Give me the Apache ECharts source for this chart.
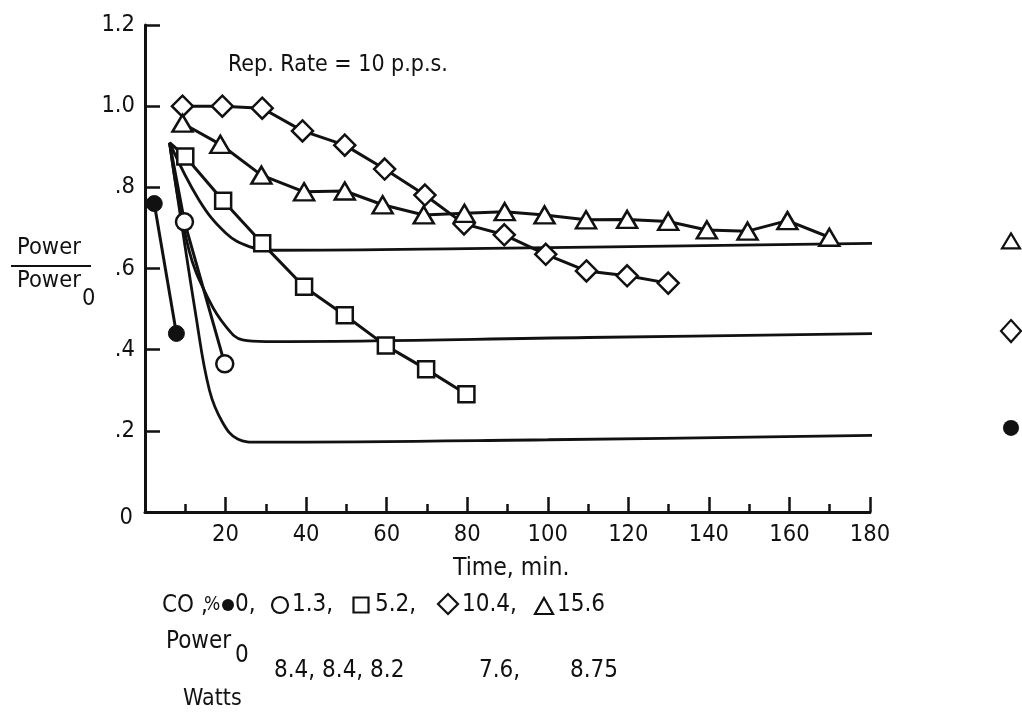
<!DOCTYPE html>
<html>
<head>
<meta charset="utf-8">
<script src="https://cdn.jsdelivr.net/npm/echarts@6/dist/echarts.min.js"></script>
<style>
  html, body { margin: 0; padding: 0; background: #fff; }
  #chart { width: 1022px; height: 717px; }
</style>
</head>
<body>
<div id="chart"></div>
<script>
// ---- Data ----
const co0Filled = [[2.3, 0.76], [7.8, 0.44]];                       // CO 0 %
const co13Open = [[6.1, 0.91], [9.8, 0.715], [19.8, 0.365]];         // CO 1.3 %
const co52Square = [[6.1, 0.91], [10, 0.876], [19.4, 0.767], [29.1, 0.662], [39.5, 0.555],
                    [49.6, 0.485], [59.8, 0.41], [69.8, 0.352], [79.8, 0.29]];   // CO 5.2 %
const co104Diamond = [[9.3, 1.0], [19.2, 1.0], [29.1, 0.995], [39.1, 0.939], [49.6, 0.904],
                      [59.5, 0.845], [69.5, 0.781], [79.2, 0.71], [89.2, 0.683], [99.5, 0.635],
                      [109.6, 0.594], [119.7, 0.582], [129.9, 0.564]];           // CO 10.4 %
const co156Triangle = [[9.3, 0.958], [18.7, 0.906], [28.9, 0.83], [39.5, 0.789], [49.6, 0.791],
                       [59.0, 0.757], [69.2, 0.732], [79.3, 0.736], [89.3, 0.74], [99.2, 0.732],
                       [109.5, 0.72], [119.7, 0.721], [129.9, 0.716], [139.5, 0.695], [149.6, 0.692],
                       [159.5, 0.718], [169.9, 0.677]];                          // CO 15.6 %
// Theoretical curves (solid, no markers)
const curveHigh = [[6.1, 0.91], [13.4, 0.769], [20.1, 0.687], [25.9, 0.654], [32, 0.645],
                   [80, 0.649], [189.5, 0.663]];
const curveMid = [[6.1, 0.91], [10.9, 0.646], [15.9, 0.522], [20.1, 0.457], [24.2, 0.424],
                  [30, 0.42], [110, 0.43], [190, 0.441]];
const curveLow = [[6.1, 0.91], [12.7, 0.48], [16, 0.30], [19.3, 0.22], [23, 0.18], [28, 0.172],
                  [100, 0.178], [188.5, 0.19]];

const xMin = 0, xMax = 180, xStep = 20;
const yMin = 0, yMax = 1.2, yStep = 0.2;

const titleText = 'Rep. Rate = 10 p.p.s.';
const xName = 'Time, min.';
const legendValues = ['0,', '1.3,', '5.2,', '10.4,', '15.6'];
const powerValues = ['8.4, 8.4, 8.2', '7.6,', '8.75'];

// ---- Styles ----
const FONT = "'Liberation Sans Narrow','DejaVu Sans Condensed','Arial Narrow',sans-serif";
const FS = 23.5;
const INK = '#111';
const openItem = { color: '#fff', borderColor: INK, borderWidth: 2.5 };
const openShape = { fill: '#fff', stroke: INK, lineWidth: 2.2 };

const chart = echarts.init(document.getElementById('chart'), null, { renderer: 'canvas' });

function dataLine(name, data, symbol, size, item) {
  return {
    name, type: 'line', data, symbol, symbolSize: size,
    showAllSymbol: true, clip: false, z: 3,
    lineStyle: { color: INK, width: 3 },
    itemStyle: item
  };
}
function startHidden(arr) {
  return arr.map((p, i) => i === 0 ? { value: p, symbol: 'none' } : p);
}
function curve(data) {
  return {
    type: 'line', data, symbol: 'none', smooth: 0.4, clip: false, z: 2,
    lineStyle: { color: INK, width: 2.8 }
  };
}
function txt(left, top, text, size) {
  return { type: 'text', left, top, style: { text, font: `${size || FS}px ${FONT}`, fill: INK } };
}
// key symbols drawn as shapes
function symShape(kind, cx, cy, w, h, fill) {
  if (kind === 'triangle') {
    return { type: 'polygon', shape: { points: [[cx, cy - h / 2], [cx + w / 2, cy + h / 2], [cx - w / 2, cy + h / 2]] },
             style: Object.assign({}, openShape, fill ? { fill } : {}) };
  }
  if (kind === 'diamond') {
    return { type: 'polygon', shape: { points: [[cx, cy - h / 2], [cx + w / 2, cy], [cx, cy + h / 2], [cx - w / 2, cy]] },
             style: Object.assign({}, openShape, fill ? { fill } : {}) };
  }
  if (kind === 'rect') {
    return { type: 'rect', shape: { x: cx - w / 2, y: cy - h / 2, width: w, height: h }, style: openShape };
  }
  if (kind === 'dot') {
    return { type: 'circle', shape: { cx, cy, r: w / 2 }, style: { fill: INK } };
  }
  return { type: 'circle', shape: { cx, cy, r: w / 2 }, style: openShape };
}

const LY = 605;      // legend row centre
const baseGraphic = [
  txt(228, 54, titleText, 23),
  txt(453, 556, xName, 24.5),
  // y axis name as a fraction
  txt(17, 236, 'Power'),
  { type: 'line', shape: { x1: 11, y1: 266, x2: 91, y2: 266 }, style: { stroke: INK, lineWidth: 2 } },
  txt(17, 269, 'Power'),
  txt(82, 287, '0'),
  // legend row
  txt(162, LY - 11, 'CO ,', 24),
  txt(204, LY - 9, '%', 19),
  symShape('dot', 228, LY, 12, 12),
  txt(235, LY - 12, legendValues[0], 24),
  symShape('circle', 280, LY, 16, 16),
  txt(292, LY - 12, legendValues[1], 24),
  symShape('rect', 361, LY, 15, 15),
  txt(375, LY - 12, legendValues[2], 24),
  symShape('diamond', 448, LY - 1, 20, 20),
  txt(462, LY - 12, legendValues[3], 24),
  symShape('triangle', 544, LY + 1, 18, 16),
  txt(557, LY - 12, legendValues[4], 24),
  // Power0 / Watts rows
  txt(166, 630, 'Power', 24),
  txt(235, 644, '0', 24),
  txt(274, 659, powerValues[0], 24),
  txt(479, 659, powerValues[1], 24),
  txt(570, 659, powerValues[2], 24),
  txt(183, 688, 'Watts', 23)
];

const option = {
  backgroundColor: '#fff',
  animation: false,
  textStyle: { fontFamily: FONT, color: INK },
  grid: { left: 145, right: 152, top: 25, bottom: 205, containLabel: false },
  xAxis: {
    type: 'value', min: xMin, max: xMax, interval: xStep,
    axisLine: { show: true, lineStyle: { color: INK, width: 3 } },
    axisTick: { show: true, inside: true, length: 15, lineStyle: { color: INK, width: 2.5 } },
    minorTick: { show: true, splitNumber: 2, length: 8, lineStyle: { color: INK, width: 2.5 } },
    axisLabel: {
      color: INK, fontFamily: FONT, fontSize: FS, margin: 11,
      formatter: v => (v === 0 ? '' : String(v))
    },
    splitLine: { show: false }
  },
  yAxis: {
    type: 'value', min: yMin, max: yMax, interval: yStep,
    axisLine: { show: true, lineStyle: { color: INK, width: 3 } },
    axisTick: { show: true, inside: true, length: 15, lineStyle: { color: INK, width: 2.5 } },
    axisLabel: {
      color: INK, fontFamily: FONT, fontSize: FS, margin: 10,
      formatter: v => {
        const r = Math.round(v * 10) / 10;
        if (r === 0) return '{z|0}';
        if (r >= 1) return r.toFixed(1);
        return '.' + Math.round(r * 10);
      },
      rich: { z: { fontFamily: FONT, fontSize: FS, color: INK, padding: [12, 2, 0, 0] } }
    },
    splitLine: { show: false }
  },
  series: [
    dataLine('CO 0%', co0Filled, 'circle', 16, { color: INK, borderColor: INK, borderWidth: 1 }),
    dataLine('CO 1.3%', startHidden(co13Open), 'circle', 17, openItem),
    dataLine('CO 5.2%', startHidden(co52Square), 'rect', 16, openItem),
    dataLine('CO 10.4%', co104Diamond, 'diamond', [21, 21], openItem),
    dataLine('CO 15.6%', co156Triangle, 'triangle', [20, 17], openItem),
    curve(curveHigh),
    curve(curveMid),
    curve(curveLow)
  ],
  graphic: baseGraphic
};
chart.setOption(option);

// Key symbols at the right end of the three theoretical curves
const markX = 1011;
const ends = [
  { c: curveHigh, dy: -2, kind: 'triangle', w: 18, h: 15 },
  { c: curveMid, dy: -2, kind: 'diamond', w: 20, h: 22 },
  { c: curveLow, dy: -7, kind: 'dot', w: 16, h: 16 }
];
const keyMarks = ends.map(e => {
  const p = chart.convertToPixel({ gridIndex: 0 }, e.c[e.c.length - 1]);
  return symShape(e.kind, markX, p[1] + e.dy, e.w, e.h);
});
chart.setOption({ graphic: baseGraphic.concat(keyMarks) });
</script>
</body>
</html>
